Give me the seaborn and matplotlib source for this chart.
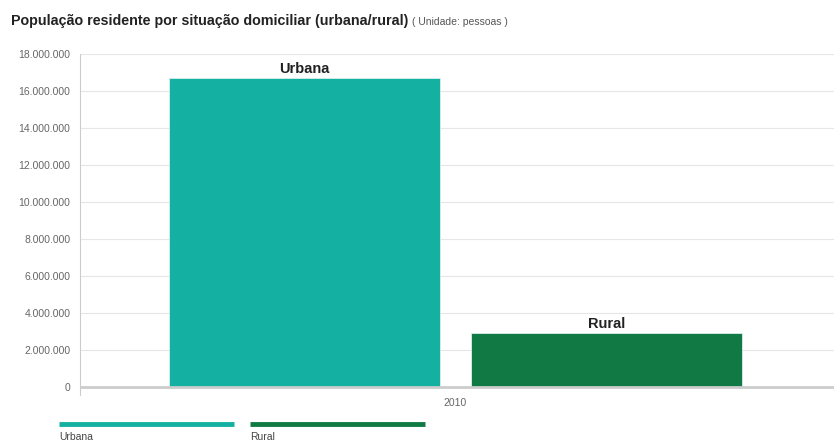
import pandas as pd
import matplotlib.pyplot as plt
import seaborn as sns
from matplotlib.lines import Line2D
from matplotlib.ticker import FuncFormatter

# ------------------------------------------------------------
# Datos
# ------------------------------------------------------------
anos = ["2010"]
situacoes = ["Urbana", "Rural"]
populacao = [16700000, 2920000]
cores = ["#14B1A3", "#117A44"]

df = pd.DataFrame({
    "ano": anos * len(situacoes),
    "situacao": situacoes,
    "pessoas": populacao,
})

# ------------------------------------------------------------
# Estilo
# ------------------------------------------------------------
sns.set_style("white")
plt.rcParams["font.family"] = ["Liberation Sans", "DejaVu Sans"]

fig = plt.figure(figsize=(8.34, 4.43), dpi=100)
ax = fig.add_axes([0.0959, 0.1084, 0.9041, 0.7697])

sns.barplot(
    data=df, x="ano", y="pessoas", hue="situacao",
    palette=cores, width=0.8, gap=0.1, dodge=True, saturation=1,
    edgecolor="#d9f0ec", linewidth=0.6, legend=False, ax=ax,
)

ax.set_xlim(-0.498, 0.502)
ax.set_ylim(-430000, 18000000)
ax.set_yticks(range(0, 18000001, 2000000))
ax.yaxis.set_major_formatter(FuncFormatter(lambda v, p: f"{v:,.0f}".replace(",", ".")))
ax.tick_params(axis="y", labelsize=7.5, labelcolor="#666666", length=5,
               color="#cccccc", width=0.8, pad=2)
ax.tick_params(axis="x", labelsize=7.5, labelcolor="#666666", length=0, pad=2)
ax.set_xlabel("")
ax.set_ylabel("")

ax.grid(axis="y", color="#e6e6e6", linewidth=0.8)
ax.set_axisbelow(True)
ax.axhline(0, color="#cccccc", linewidth=2, zorder=1)
for s in ["top", "right", "bottom"]:
    ax.spines[s].set_visible(False)
ax.spines["left"].set_color("#cccccc")
ax.spines["left"].set_linewidth(0.8)

# etiquetas sobre las barras
for p, nome in zip(ax.patches, situacoes):
    ax.annotate(nome, (p.get_x() + p.get_width() / 2, p.get_height()),
                xytext=(0, 1.5), textcoords="offset points",
                ha="center", va="bottom", fontsize=10.5, fontweight="bold",
                color="#222222")

# titulo
fig.text(0.013, 0.952, "População residente por situação domiciliar (urbana/rural)",
         fontsize=10.3, fontweight="bold", color="#222222", va="center")
fig.text(0.494, 0.950, "( Unidade: pessoas )", fontsize=7.5, color="#555555",
         va="center")

# leyenda (linea arriba, texto abajo)
for i, (nome, cor) in enumerate(zip(situacoes, cores)):
    x0 = 0.071 + i * 0.229
    fig.add_artist(Line2D([x0, x0 + 0.209], [0.043, 0.043], color=cor,
                          linewidth=3.5, solid_capstyle="butt",
                          transform=fig.transFigure))
    fig.text(x0, 0.013, nome, fontsize=7.5, color="#444444", va="center")

plt.savefig("out.png", dpi=100)
